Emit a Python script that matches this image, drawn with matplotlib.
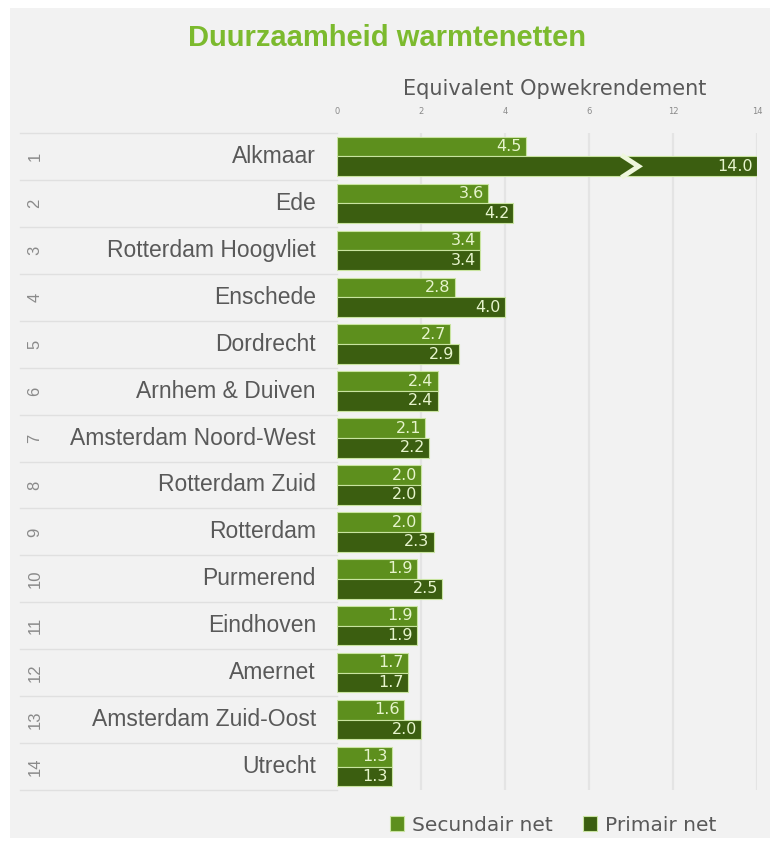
import matplotlib
matplotlib.use("Agg")
import matplotlib.pyplot as plt
from matplotlib.patches import Rectangle
from matplotlib.transforms import blended_transform_factory
import numpy as np

cities = ["Alkmaar", "Ede", "Rotterdam Hoogvliet", "Enschede", "Dordrecht",
          "Arnhem & Duiven", "Amsterdam Noord-West", "Rotterdam Zuid", "Rotterdam",
          "Purmerend", "Eindhoven", "Amernet", "Amsterdam Zuid-Oost", "Utrecht"]
ranks = [str(i) for i in range(1, 15)]
secundair = [4.5, 3.6, 3.4, 2.8, 2.7, 2.4, 2.1, 2.0, 2.0, 1.9, 1.9, 1.7, 1.6, 1.3]
primair = [14.0, 4.2, 3.4, 4.0, 2.9, 2.4, 2.2, 2.0, 2.3, 2.5, 1.9, 1.7, 2.0, 1.3]
tick_pos = [0, 2, 4, 6, 8, 10]
tick_labels = ["0", "2", "4", "6", "12", "14"]
series_names = ["Secundair net", "Primair net"]

C_SEC = "#5d8f1d"
C_PRI = "#3b5e10"
C_EDGE = "#c9e4a0"
C_TXT = "#e6f4cc"
GRAY = "#595959"
BG = "#f2f2f2"

W, H = 770, 846
fig = plt.figure(figsize=(W / 100, H / 100), dpi=100)
fig.patch.set_facecolor("white")
fig.patches.append(Rectangle((10 / W, 8 / H), 1 - 10 / W, 1 - 16 / H,
                             transform=fig.transFigure, facecolor=BG,
                             edgecolor="none", zorder=-10))

left, right, top, bottom = 337, 757, 133, 790
ax = fig.add_axes([left / W, 1 - bottom / H, (right - left) / W, (bottom - top) / H])
ax.set_facecolor("none")
axmax = tick_pos[-1]
ax.set_xlim(0, axmax)
n = len(cities)
ax.set_ylim(n - 0.5, -0.5)
for s in ax.spines.values():
    s.set_visible(False)
ax.set_yticks([])
ax.xaxis.tick_top()
ax.set_xticks(tick_pos)
ax.set_xticklabels(tick_labels, fontsize=6, color="#8a8a8a")
ax.tick_params(axis="x", length=0, pad=12)
for t in tick_pos[1:]:
    ax.axvline(t, color="#e4e4e4", lw=1.6, zorder=0)

y = np.arange(n)
h = 0.42
sec_disp = np.minimum(secundair, axmax)
pri_disp = np.minimum(primair, axmax)
b1 = ax.barh(y - h / 2, sec_disp, height=h, color=C_SEC, edgecolor=C_EDGE, lw=0.8,
             label=series_names[0], zorder=2)
b2 = ax.barh(y + h / 2, pri_disp, height=h, color=C_PRI, edgecolor=C_EDGE, lw=0.8,
             label=series_names[1], zorder=2)

for i in range(n):
    ax.annotate(f"{secundair[i]:.1f}", (sec_disp[i], y[i] - h / 2), xytext=(-3, 0),
                textcoords="offset points", ha="right", va="center",
                fontsize=11.5, color=C_TXT, zorder=3)
    ax.annotate(f"{primair[i]:.1f}", (pri_disp[i], y[i] + h / 2), xytext=(-3, 0),
                textcoords="offset points", ha="right", va="center",
                fontsize=11.5, color=C_TXT, zorder=3)
    if primair[i] > axmax:
        bx = (tick_pos[3] + tick_pos[4]) / 2
        yc = y[i] + h / 2
        ax.plot([bx - 0.18, bx + 0.18, bx - 0.18], [yc - h / 2, yc, yc + h / 2],
                color="#eef7dc", lw=3.5, zorder=4, solid_joinstyle="miter",
                clip_on=False)

# category labels
tr = blended_transform_factory(fig.transFigure, ax.transData)
for i in range(n):
    ax.text(316 / W, y[i], cities[i], transform=tr, ha="right", va="center",
            fontsize=16.5, color=GRAY, family="Liberation Sans")
    ax.text(35 / W, y[i], ranks[i], transform=tr, ha="center", va="center",
            fontsize=12, color="#8a8a8a", rotation=90, family="Liberation Sans")
for b in np.arange(n + 1) - 0.5:
    ax.plot([20 / W, 337 / W], [b, b], transform=tr, color="#e0e0e0", lw=1,
            clip_on=False)

fig.text(387 / W, 1 - 38 / H, "Duurzaamheid warmtenetten", ha="center", va="center",
         fontsize=21, fontweight="bold", color="#7cba2e", family="Liberation Sans")
fig.text(555 / W, 1 - 89 / H, "Equivalent Opwekrendement", ha="center", va="center",
         fontsize=15, color=GRAY)

fig.legend(handles=[b1, b2], loc="center", bbox_to_anchor=(553 / W, 1 - 825 / H),
           ncol=2, frameon=False, fontsize=14.5, labelcolor=GRAY,
           handlelength=0.7, handleheight=0.7, handletextpad=0.4, columnspacing=1.5)

fig.savefig("out.png", dpi=100, facecolor=fig.get_facecolor())
